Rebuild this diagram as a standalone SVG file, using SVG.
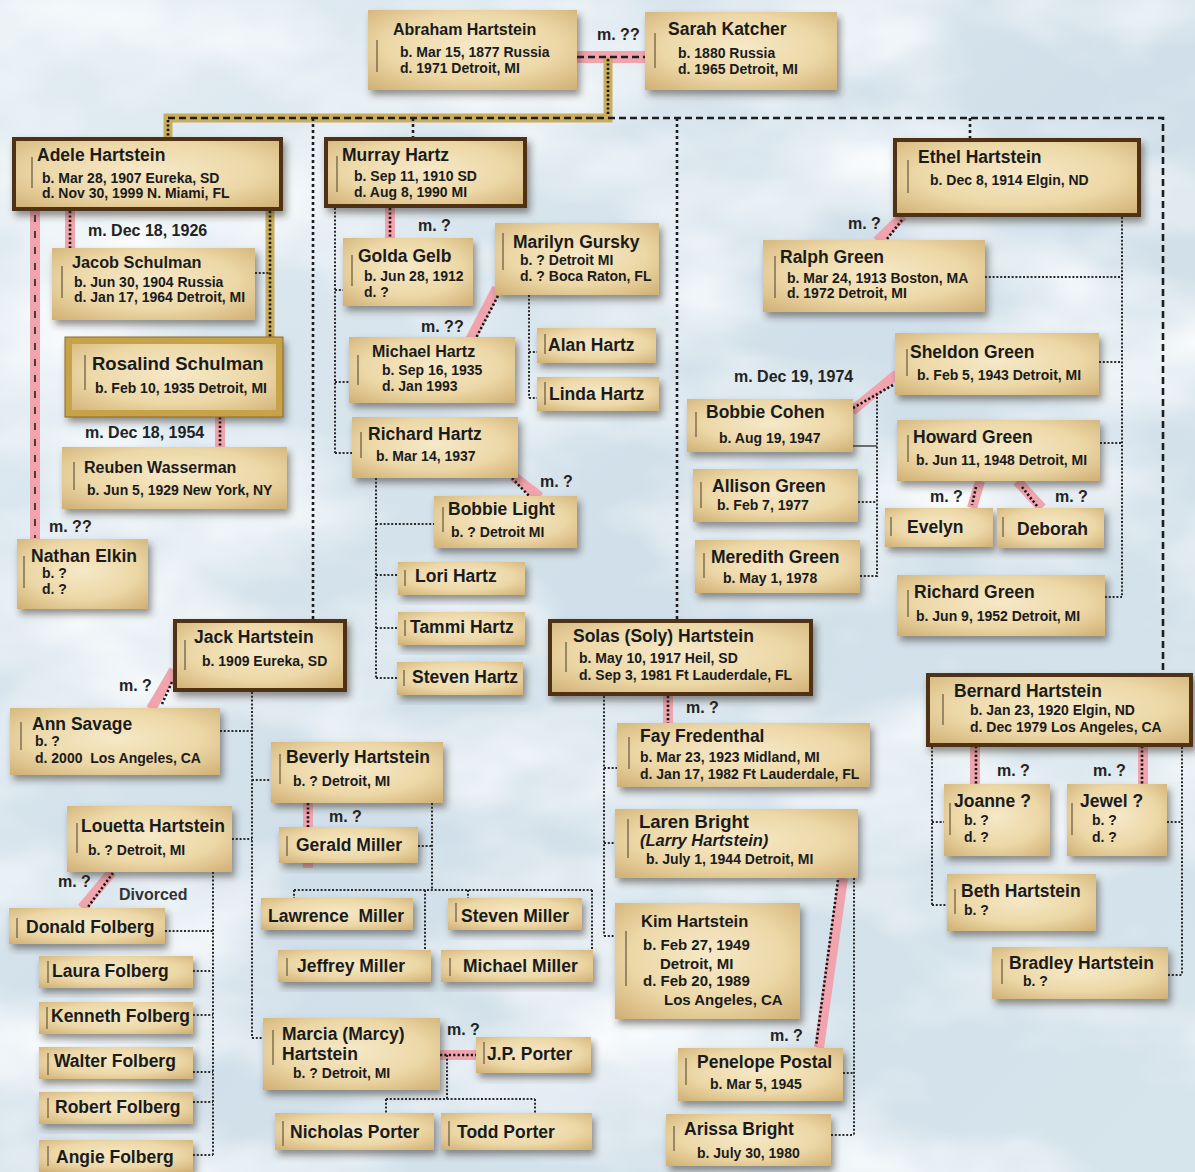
<svg xmlns="http://www.w3.org/2000/svg" width="1195" height="1172" viewBox="0 0 1195 1172">
<defs>
<linearGradient id="sky" x1="0" y1="0" x2="1" y2="1"><stop offset="0" stop-color="#e3edf3"/><stop offset="0.5" stop-color="#d0dfe9"/><stop offset="1" stop-color="#d6e4ec"/></linearGradient>
<filter id="clouds" filterUnits="userSpaceOnUse" x="0" y="0" width="1195" height="1172">
<feTurbulence type="fractalNoise" baseFrequency="0.004 0.007" numOctaves="4" seed="7"/>
<feColorMatrix type="matrix" values="0 0 0 0 1  0 0 0 0 1  0 0 0 0 1  2.2 0 0 0 -0.9"/>
</filter>
<radialGradient id="parch" cx="0.5" cy="0.45" r="0.75"><stop offset="0" stop-color="#f6e9c8"/><stop offset="0.55" stop-color="#ecd7a6"/><stop offset="1" stop-color="#cfae72"/></radialGradient>
<filter id="sh" x="-10%" y="-15%" width="125%" height="145%"><feDropShadow dx="3" dy="5" stdDeviation="3.5" flood-color="#2d2a20" flood-opacity="0.5"/></filter>
<style>
.nd{fill:url(#parch);filter:url(#sh)}
.mn{stroke:#4f3314;stroke-width:4}
.gd{stroke:#c6a24a;stroke-width:7}
.br{stroke:#6e6048;stroke-width:1.3}
text{font-family:"Liberation Sans",Arial,sans-serif;font-weight:bold;fill:#1b1b1b}
.nm{font-size:17.5px}
.dt{font-size:14px}
.lb{font-size:16px;fill:#222}
.pk{stroke:#f0a4ae;stroke-width:10;fill:none}
.gl{stroke:#c9ac5c;stroke-width:9;fill:none}
.dd{stroke:#151515;stroke-width:2.6;stroke-dasharray:2.2 2.2;fill:none}
.ds{stroke:#1e1e1e;stroke-width:2.6;stroke-dasharray:7 4;fill:none}
.ch{stroke:#2a2a2a;stroke-width:2;stroke-dasharray:2 1.8;fill:none}
</style>
</defs>
<rect width="1195" height="1172" fill="url(#sky)"/>
<rect width="1195" height="1172" fill="#fff" filter="url(#clouds)"/>

<g id="connectors">
<g id="marriages">
<path class="pk" d="M577,57 H645" style="stroke-width:12"/>
<path class="pk" d="M35,211 V540"/>
<path class="pk" d="M70,211 V248"/>
<path class="pk" d="M220,417 V448"/>
<path class="pk" d="M390,208 V238"/>
<path class="pk" d="M497,288 L470,340"/>
<path class="pk" d="M513,476 L540,497"/>
<path class="pk" d="M174,670 L151,709"/>
<path class="pk" d="M308,803 V868"/>
<path class="pk" d="M112,872 L82,908"/>
<path class="pk" d="M440,1055 H476"/>
<path class="pk" d="M668,696 V723"/>
<path class="pk" d="M843,878 L819,1048"/>
<path class="pk" d="M903,216 L877,241"/>
<path class="pk" d="M897,374 L852,411"/>
<path class="pk" d="M980,481 L972,508"/>
<path class="pk" d="M1017,481 L1042,508"/>
<path class="pk" d="M975,746 V784"/>
<path class="pk" d="M1143,746 V784"/>
<path class="gl" d="M608,57 V118 H168 V137"/>
<path class="gl" d="M270,211 V340"/>
</g>
<g id="overlays">
<path class="ds" d="M577,57 H645"/>
<path d="M35,215 V538" style="stroke:#222;stroke-width:1.6;stroke-dasharray:7 9;fill:none"/>
<path class="dd" d="M70,211 V248"/>
<path class="dd" d="M220,417 V448"/>
<path class="dd" d="M390,208 V238"/>
<path class="dd" d="M500,292 L476,338"/>
<path class="dd" d="M512,478 L530,497"/>
<path class="dd" d="M172,682 L162,704"/>
<path class="dd" d="M308,803 V827"/>
<path class="dd" d="M113,873 L88,907"/>
<path class="dd" d="M440,1055 H476"/>
<path class="dd" d="M668,696 V723"/>
<path class="dd" d="M838,880 L816,1046"/>
<path class="dd" d="M902,220 L887,239"/>
<path class="dd" d="M893,385 L853,408"/>
<path class="dd" d="M976,487 L972,505"/>
<path class="dd" d="M1022,487 L1037,506"/>
<path class="dd" d="M976,746 V784"/>
<path class="dd" d="M1142,746 V784"/>
<path class="dd" d="M608,59 V116"/>
<path class="dd" d="M168,120 V137"/>
<path class="dd" d="M270,211 V338"/>
</g>
<g id="descent">
<path class="ds" d="M168,118 H1163 V673"/>
<path class="ds" d="M313,118 V619" style="stroke-dasharray:3 3"/>
<path class="ds" d="M413,118 V137" style="stroke-dasharray:3 3"/>
<path class="ds" d="M677,118 V619" style="stroke-dasharray:3 3"/>
<path class="ds" d="M970,118 V138" style="stroke-dasharray:3 3"/>
<path class="ch" d="M255,273 H270"/>
<path class="ch" d="M335,208 V453 M335,290 H344 M335,382 H349 M335,453 H352"/>
<path class="ch" d="M529,295 V398 M529,352 H537 M529,398 H537"/>
<path class="ch" d="M376,478 V678 M376,524 H434 M376,575 H398 M376,628 H398 M376,678 H397"/>
<path class="ch" d="M252,692 V1038 M220,731 H252 M252,780 H271 M232,839 H252 M252,1038 H263"/>
<path class="ch" d="M432,803 V890 M418,846 H432 M294,890 H592 M294,890 V898 M468,890 V898 M425,890 V950 M592,890 V950"/>
<path class="ch" d="M213,872 V1155 M165,931 H213 M193,971 H213 M193,1015 H213 M193,1072 H213 M193,1102 H213 M193,1155 H213"/>
<path class="ch" d="M447,1055 V1099 M386,1099 H535 M386,1099 V1113 M535,1099 V1113"/>
<path class="ch" d="M604,696 V936 M604,768 H617 M604,843 H615 M604,936 H615"/>
<path class="ch" d="M854,878 V1135 M843,1073 H854 M831,1135 H854"/>
<path class="ch" d="M1122,217 V597 M985,277 H1122 M1099,362 H1122 M1100,443 H1122 M1105,597 H1122"/>
<path class="ch" d="M877,397 V577 M858,502 H877 M860,576 H877"/>
<path d="M853,446 H877" style="stroke:#444;stroke-width:1.5;fill:none"/>
<path class="ch" d="M932,747 V905 M932,822 H944 M932,905 H947"/>
<path class="ch" d="M1182,747 V975 M1167,822 H1182 M1168,975 H1182"/>
</g>
<g id="labels">
<text class="lb" x="597" y="40">m. ??</text>
<text class="lb" x="88" y="236">m. Dec 18, 1926</text>
<text class="lb" x="85" y="438">m. Dec 18, 1954</text>
<text class="lb" x="49" y="532">m. ??</text>
<text class="lb" x="418" y="231">m. ?</text>
<text class="lb" x="421" y="332">m. ??</text>
<text class="lb" x="540" y="487">m. ?</text>
<text class="lb" x="119" y="691">m. ?</text>
<text class="lb" x="329" y="822">m. ?</text>
<text class="lb" x="58" y="887">m. ?</text>
<text class="lb" x="119" y="900" style="fill:#333">Divorced</text>
<text class="lb" x="447" y="1035">m. ?</text>
<text class="lb" x="686" y="713">m. ?</text>
<text class="lb" x="770" y="1041">m. ?</text>
<text class="lb" x="848" y="229">m. ?</text>
<text class="lb" x="734" y="382">m. Dec 19, 1974</text>
<text class="lb" x="930" y="502">m. ?</text>
<text class="lb" x="1055" y="502">m. ?</text>
<text class="lb" x="997" y="776">m. ?</text>
<text class="lb" x="1093" y="776">m. ?</text>
</g>
</g>

<g id="nodes">
<g id="abraham"><rect class="nd" x="368" y="10" width="209" height="80"/><line class="br" x1="377" y1="40" x2="377" y2="72"/><text class="nm" x="393" y="35" style="font-size:16px">Abraham Hartstein</text><text class="dt" x="400" y="57">b. Mar 15, 1877 Russia</text><text class="dt" x="400" y="73">d. 1971 Detroit, MI</text></g>
<g id="sarah"><rect class="nd" x="645" y="12" width="192" height="78"/><line class="br" x1="655" y1="33" x2="655" y2="68"/><text class="nm" x="668" y="35">Sarah Katcher</text><text class="dt" x="678" y="58">b. 1880 Russia</text><text class="dt" x="678" y="74">d. 1965 Detroit, MI</text></g>
<g id="adele"><rect class="nd mn" x="14" y="139" width="267" height="70"/><line class="br" x1="32" y1="157" x2="32" y2="188"/><text class="nm" x="37" y="161">Adele Hartstein</text><text class="dt" x="42" y="183">b. Mar 28, 1907 Eureka, SD</text><text class="dt" x="42" y="198">d. Nov 30, 1999 N. Miami, FL</text></g>
<g id="jacob"><rect class="nd" x="52" y="248" width="203" height="72"/><line class="br" x1="62" y1="266" x2="62" y2="298"/><text class="nm" x="72" y="268" style="font-size:16.3px">Jacob Schulman</text><text class="dt" x="74" y="287">b. Jun 30, 1904 Russia</text><text class="dt" x="74" y="302">d. Jan 17, 1964 Detroit, MI</text></g>
<g id="rosalind"><rect class="nd gd" x="68.5" y="340.5" width="211" height="73"/><rect x="65" y="337" width="218" height="80" fill="none" stroke="#8f6d24" stroke-width="1"/><line class="br" x1="85" y1="355" x2="85" y2="390"/><text class="nm" x="92" y="370" style="font-size:18.5px">Rosalind Schulman</text><text class="dt" x="95" y="393">b. Feb 10, 1935 Detroit, MI</text></g>
<g id="reuben"><rect class="nd" x="62" y="447" width="225" height="62"/><line class="br" x1="74" y1="462" x2="74" y2="490"/><text class="nm" x="84" y="473" style="font-size:16px">Reuben Wasserman</text><text class="dt" x="87" y="495">b. Jun 5, 1929 New York, NY</text></g>
<g id="nathan"><rect class="nd" x="17" y="539" width="131" height="70"/><line class="br" x1="24" y1="556" x2="24" y2="588"/><text class="nm" x="31" y="562">Nathan Elkin</text><text class="dt" x="42" y="578">b. ?</text><text class="dt" x="42" y="594">d. ?</text></g>
<g id="murray"><rect class="nd mn" x="326" y="139" width="199" height="67"/><line class="br" x1="337" y1="156" x2="337" y2="192"/><text class="nm" x="342" y="161">Murray Hartz</text><text class="dt" x="354" y="181">b. Sep 11, 1910 SD</text><text class="dt" x="354" y="197">d. Aug 8, 1990 MI</text></g>
<g id="golda"><rect class="nd" x="343" y="238" width="130" height="68"/><line class="br" x1="352" y1="255" x2="352" y2="286"/><text class="nm" x="358" y="262">Golda Gelb</text><text class="dt" x="364" y="281">b. Jun 28, 1912</text><text class="dt" x="364" y="297">d. ?</text></g>
<g id="marilyn"><rect class="nd" x="495" y="223" width="164" height="72"/><line class="br" x1="503" y1="233" x2="503" y2="270"/><text class="nm" x="513" y="248">Marilyn Gursky</text><text class="dt" x="520" y="265">b. ? Detroit MI</text><text class="dt" x="520" y="281">d. ? Boca Raton, FL</text></g>
<g id="michael-hartz"><rect class="nd" x="349" y="337" width="166" height="66"/><line class="br" x1="358" y1="355" x2="358" y2="385"/><text class="nm" x="372" y="357" style="font-size:16px">Michael Hartz</text><text class="dt" x="382" y="375">b. Sep 16, 1935</text><text class="dt" x="382" y="391">d. Jan 1993</text></g>
<g id="alan"><rect class="nd" x="537" y="328" width="119" height="35"/><line class="br" x1="545" y1="334" x2="545" y2="354"/><text class="nm" x="548" y="351">Alan Hartz</text></g>
<g id="linda"><rect class="nd" x="537" y="377" width="122" height="34"/><line class="br" x1="545" y1="382" x2="545" y2="405"/><text class="nm" x="549" y="400">Linda Hartz</text></g>
<g id="richard-hartz"><rect class="nd" x="352" y="417" width="166" height="61"/><line class="br" x1="361" y1="432" x2="361" y2="458"/><text class="nm" x="368" y="440">Richard Hartz</text><text class="dt" x="376" y="461">b. Mar 14, 1937</text></g>
<g id="bobbie-light"><rect class="nd" x="434" y="496" width="143" height="52"/><line class="br" x1="443" y1="507" x2="443" y2="532"/><text class="nm" x="448" y="515">Bobbie Light</text><text class="dt" x="451" y="537">b. ? Detroit MI</text></g>
<g id="lori"><rect class="nd" x="398" y="562" width="127" height="33"/><line class="br" x1="405" y1="570" x2="405" y2="586"/><text class="nm" x="415" y="582">Lori Hartz</text></g>
<g id="tammi"><rect class="nd" x="398" y="612" width="127" height="33"/><line class="br" x1="405" y1="620" x2="405" y2="636"/><text class="nm" x="410" y="633">Tammi Hartz</text></g>
<g id="steven-hartz"><rect class="nd" x="397" y="662" width="126" height="33"/><line class="br" x1="404" y1="670" x2="404" y2="686"/><text class="nm" x="412" y="683">Steven Hartz</text></g>
<g id="jack"><rect class="nd mn" x="175" y="621" width="170" height="69"/><line class="br" x1="185" y1="640" x2="185" y2="670"/><text class="nm" x="194" y="643">Jack Hartstein</text><text class="dt" x="202" y="666">b. 1909 Eureka, SD</text></g>
<g id="ann"><rect class="nd" x="10" y="708" width="210" height="67"/><line class="br" x1="21" y1="722" x2="21" y2="750"/><text class="nm" x="32" y="730">Ann Savage</text><text class="dt" x="35" y="746">b. ?</text><text class="dt" x="35" y="763" xml:space="preserve" style="white-space:pre">d. 2000  Los Angeles, CA</text></g>
<g id="beverly"><rect class="nd" x="271" y="742" width="172" height="61"/><line class="br" x1="280" y1="754" x2="280" y2="784"/><text class="nm" x="286" y="763">Beverly Hartstein</text><text class="dt" x="293" y="786">b. ? Detroit, MI</text></g>
<g id="gerald"><rect class="nd" x="279" y="827" width="139" height="36"/><line class="br" x1="287" y1="836" x2="287" y2="856"/><text class="nm" x="296" y="851">Gerald Miller</text></g>
<g id="lawrence"><rect class="nd" x="261" y="898" width="152" height="32"/><text class="nm" x="268" y="922" xml:space="preserve" style="white-space:pre">Lawrence  Miller</text></g>
<g id="steven-miller"><rect class="nd" x="448" y="898" width="134" height="32"/><line class="br" x1="456" y1="903" x2="456" y2="922"/><text class="nm" x="461" y="922">Steven Miller</text></g>
<g id="jeffrey"><rect class="nd" x="278" y="950" width="153" height="32"/><line class="br" x1="287" y1="958" x2="287" y2="976"/><text class="nm" x="297" y="972">Jeffrey Miller</text></g>
<g id="michael-miller"><rect class="nd" x="441" y="950" width="152" height="32"/><line class="br" x1="450" y1="958" x2="450" y2="976"/><text class="nm" x="463" y="972">Michael Miller</text></g>
<g id="louetta"><rect class="nd" x="67" y="806" width="165" height="66"/><line class="br" x1="77" y1="823" x2="77" y2="853"/><text class="nm" x="81" y="832">Louetta Hartstein</text><text class="dt" x="88" y="855">b. ? Detroit, MI</text></g>
<g id="donald"><rect class="nd" x="9" y="908" width="156" height="36"/><line class="br" x1="17" y1="918" x2="17" y2="938"/><text class="nm" x="26" y="933">Donald Folberg</text></g>
<g id="laura"><rect class="nd" x="39" y="956" width="154" height="32"/><line class="br" x1="48" y1="961" x2="48" y2="983"/><text class="nm" x="52" y="977">Laura Folberg</text></g>
<g id="kenneth"><rect class="nd" x="39" y="1002" width="154" height="32"/><line class="br" x1="47" y1="1007" x2="47" y2="1029"/><text class="nm" x="51" y="1022">Kenneth Folberg</text></g>
<g id="walter"><rect class="nd" x="39" y="1047" width="154" height="32"/><line class="br" x1="48" y1="1053" x2="48" y2="1075"/><text class="nm" x="54" y="1067">Walter Folberg</text></g>
<g id="robert"><rect class="nd" x="39" y="1092" width="154" height="32"/><line class="br" x1="48" y1="1098" x2="48" y2="1118"/><text class="nm" x="55" y="1113">Robert Folberg</text></g>
<g id="angie"><rect class="nd" x="39" y="1140" width="154" height="32"/><line class="br" x1="48" y1="1146" x2="48" y2="1166"/><text class="nm" x="56" y="1163">Angie Folberg</text></g>
<g id="marcia"><rect class="nd" x="263" y="1018" width="177" height="72"/><line class="br" x1="273" y1="1030" x2="273" y2="1065"/><text class="nm" x="282" y="1040">Marcia (Marcy)</text><text class="nm" x="282" y="1060">Hartstein</text><text class="dt" x="293" y="1078">b. ? Detroit, MI</text></g>
<g id="jp-porter"><rect class="nd" x="476" y="1037" width="115" height="36"/><line class="br" x1="484" y1="1042" x2="484" y2="1064"/><text class="nm" x="487" y="1060">J.P. Porter</text></g>
<g id="nicholas"><rect class="nd" x="275" y="1113" width="159" height="37"/><line class="br" x1="283" y1="1121" x2="283" y2="1146"/><text class="nm" x="290" y="1138">Nicholas Porter</text></g>
<g id="todd"><rect class="nd" x="441" y="1113" width="151" height="37"/><line class="br" x1="449" y1="1121" x2="449" y2="1146"/><text class="nm" x="457" y="1138">Todd Porter</text></g>
<g id="solas"><rect class="nd mn" x="550" y="621" width="261" height="73"/><line class="br" x1="566" y1="642" x2="566" y2="672"/><text class="nm" x="573" y="642">Solas (Soly) Hartstein</text><text class="dt" x="579" y="663">b. May 10, 1917 Heil, SD</text><text class="dt" x="579" y="680">d. Sep 3, 1981 Ft Lauderdale, FL</text></g>
<g id="fay"><rect class="nd" x="617" y="723" width="253" height="64"/><line class="br" x1="629" y1="737" x2="629" y2="769"/><text class="nm" x="640" y="742">Fay Fredenthal</text><text class="dt" x="640" y="762">b. Mar 23, 1923 Midland, MI</text><text class="dt" x="640" y="779">d. Jan 17, 1982 Ft Lauderdale, FL</text></g>
<g id="laren"><rect class="nd" x="615" y="809" width="243" height="69"/><line class="br" x1="628" y1="819" x2="628" y2="858"/><text class="nm" x="639" y="828" style="font-size:18.5px">Laren Bright</text><text x="640" y="846" style="font-size:16.5px;font-style:italic">(Larry Hartstein)</text><text class="dt" x="646" y="864">b. July 1, 1944 Detroit, MI</text></g>
<g id="kim"><rect class="nd" x="615" y="903" width="185" height="116"/><line class="br" x1="626" y1="931" x2="626" y2="986"/><text class="nm" x="641" y="927" style="font-size:16.5px">Kim Hartstein</text><text class="dt" x="643" y="950" style="font-size:15px">b. Feb 27, 1949</text><text class="dt" x="660" y="969" style="font-size:15px">Detroit, MI</text><text class="dt" x="643" y="986" style="font-size:15px">d. Feb 20, 1989</text><text class="dt" x="664" y="1005" style="font-size:15px">Los Angeles, CA</text></g>
<g id="penelope"><rect class="nd" x="678" y="1048" width="165" height="53"/><line class="br" x1="686" y1="1058" x2="686" y2="1085"/><text class="nm" x="697" y="1068">Penelope Postal</text><text class="dt" x="710" y="1089">b. Mar 5, 1945</text></g>
<g id="arissa"><rect class="nd" x="666" y="1114" width="165" height="52"/><line class="br" x1="674" y1="1126" x2="674" y2="1151"/><text class="nm" x="684" y="1135">Arissa Bright</text><text class="dt" x="697" y="1158">b. July 30, 1980</text></g>
<g id="ethel"><rect class="nd mn" x="895" y="140" width="244" height="75"/><line class="br" x1="908" y1="160" x2="908" y2="193"/><text class="nm" x="918" y="163">Ethel Hartstein</text><text class="dt" x="930" y="185">b. Dec 8, 1914 Elgin, ND</text></g>
<g id="ralph"><rect class="nd" x="763" y="240" width="222" height="72"/><line class="br" x1="775" y1="256" x2="775" y2="298"/><text class="nm" x="780" y="263">Ralph Green</text><text class="dt" x="787" y="283">b. Mar 24, 1913 Boston, MA</text><text class="dt" x="787" y="298">d. 1972 Detroit, MI</text></g>
<g id="sheldon"><rect class="nd" x="895" y="333" width="204" height="62"/><line class="br" x1="907" y1="349" x2="907" y2="376"/><text class="nm" x="910" y="358">Sheldon Green</text><text class="dt" x="917" y="380">b. Feb 5, 1943 Detroit, MI</text></g>
<g id="bobbie-cohen"><rect class="nd" x="687" y="399" width="166" height="53"/><line class="br" x1="696" y1="412" x2="696" y2="437"/><text class="nm" x="706" y="418">Bobbie Cohen</text><text class="dt" x="719" y="443">b. Aug 19, 1947</text></g>
<g id="allison"><rect class="nd" x="693" y="469" width="165" height="53"/><line class="br" x1="701" y1="482" x2="701" y2="508"/><text class="nm" x="712" y="492">Allison Green</text><text class="dt" x="717" y="510">b. Feb 7, 1977</text></g>
<g id="meredith"><rect class="nd" x="695" y="540" width="165" height="53"/><line class="br" x1="704" y1="553" x2="704" y2="578"/><text class="nm" x="711" y="563">Meredith Green</text><text class="dt" x="723" y="583">b. May 1, 1978</text></g>
<g id="howard"><rect class="nd" x="897" y="420" width="203" height="61"/><line class="br" x1="908" y1="435" x2="908" y2="462"/><text class="nm" x="913" y="443">Howard Green</text><text class="dt" x="916" y="465">b. Jun 11, 1948 Detroit, MI</text></g>
<g id="evelyn"><rect class="nd" x="885" y="508" width="108" height="39"/><line class="br" x1="891" y1="517" x2="891" y2="536"/><text class="nm" x="907" y="533">Evelyn</text></g>
<g id="deborah"><rect class="nd" x="997" y="508" width="107" height="40"/><line class="br" x1="1003" y1="517" x2="1003" y2="537"/><text class="nm" x="1017" y="535">Deborah</text></g>
<g id="richard-green"><rect class="nd" x="897" y="575" width="208" height="61"/><line class="br" x1="908" y1="590" x2="908" y2="617"/><text class="nm" x="914" y="598">Richard Green</text><text class="dt" x="916" y="621">b. Jun 9, 1952 Detroit, MI</text></g>
<g id="bernard"><rect class="nd mn" x="928" y="675" width="263" height="70"/><line class="br" x1="943" y1="694" x2="943" y2="725"/><text class="nm" x="954" y="697">Bernard Hartstein</text><text class="dt" x="970" y="715">b. Jan 23, 1920 Elgin, ND</text><text class="dt" x="970" y="732">d. Dec 1979 Los Angeles, CA</text></g>
<g id="joanne"><rect class="nd" x="944" y="784" width="106" height="72"/><line class="br" x1="950" y1="803" x2="950" y2="835"/><text class="nm" x="954" y="807">Joanne ?</text><text class="dt" x="964" y="825">b. ?</text><text class="dt" x="964" y="842">d. ?</text></g>
<g id="jewel"><rect class="nd" x="1067" y="784" width="100" height="72"/><line class="br" x1="1072" y1="803" x2="1072" y2="835"/><text class="nm" x="1080" y="807">Jewel ?</text><text class="dt" x="1092" y="825">b. ?</text><text class="dt" x="1092" y="842">d. ?</text></g>
<g id="beth"><rect class="nd" x="947" y="874" width="149" height="57"/><line class="br" x1="955" y1="889" x2="955" y2="914"/><text class="nm" x="961" y="897">Beth Hartstein</text><text class="dt" x="964" y="915">b. ?</text></g>
<g id="bradley"><rect class="nd" x="992" y="947" width="176" height="52"/><line class="br" x1="1002" y1="959" x2="1002" y2="984"/><text class="nm" x="1009" y="969">Bradley Hartstein</text><text class="dt" x="1023" y="986">b. ?</text></g>
</g>
</svg>
